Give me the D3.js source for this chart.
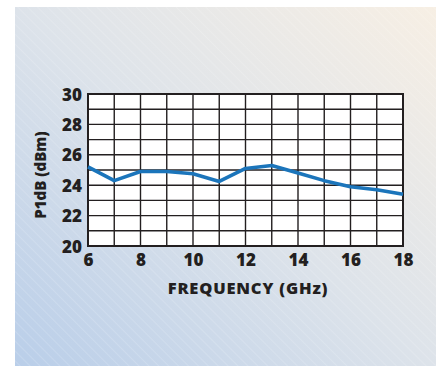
<!DOCTYPE html>
<html>
<head>
<meta charset="utf-8">
<script src="https://cdn.jsdelivr.net/npm/d3@7"></script>
<style>
  body { margin: 0; background: #fff; }
  svg { display: block; }
  .tick text { font-family: "Open Sans", sans-serif; font-weight: 800; fill: #231f20; }
</style>
</head>
<body>
<div id="chart"></div>
<script>
// data
let freq = [6, 7, 8, 9, 10, 11, 12, 13, 14, 15, 16, 17, 18];
let p1db = [25.2, 24.3, 24.9, 24.9, 24.75, 24.25, 25.1, 25.3, 24.8, 24.3, 23.9, 23.7, 23.4];
let xTicks = [6, 8, 10, 12, 14, 16, 18];
let yTicks = [20, 22, 24, 26, 28, 30];
let xGrid = [6, 7, 8, 9, 10, 11, 12, 13, 14, 15, 16, 17, 18];
let yGrid = [20, 21, 22, 23, 24, 25, 26, 27, 28, 29, 30];

let width = 436;
let height = 366;
let plot = { left: 88, right: 403, top: 94, bottom: 246 };

let svg = d3.select('#chart')
    .append('svg')
    .attr('width', width)
    .attr('height', height);

let defs = svg.append('defs');
let grad = defs.append('linearGradient')
    .attr('id', 'bg')
    .attr('x1', 0).attr('y1', 1)
    .attr('x2', 1).attr('y2', 0);
grad.append('stop').attr('offset', '0%').attr('stop-color', '#b9cee9');
grad.append('stop').attr('offset', '50%').attr('stop-color', '#dde3ea');
grad.append('stop').attr('offset', '100%').attr('stop-color', '#f7efe4');

let hatch = defs.append('pattern')
    .attr('id', 'hatch')
    .attr('patternUnits', 'userSpaceOnUse')
    .attr('width', 7).attr('height', 7)
    .attr('patternTransform', 'rotate(-45)');
hatch.append('line')
    .attr('x1', 0).attr('y1', 0)
    .attr('x2', 0).attr('y2', 7)
    .attr('stroke', '#fff')
    .attr('stroke-opacity', 0.3)
    .attr('stroke-width', 1);

svg.append('rect')
    .attr('x', 15).attr('y', 7)
    .attr('width', width - 15).attr('height', height - 7)
    .attr('fill', 'url(#bg)');
svg.append('rect')
    .attr('x', 15).attr('y', 7)
    .attr('width', width - 15).attr('height', height - 7)
    .attr('fill', 'url(#hatch)');

let x = d3.scaleLinear()
    .domain([6, 18])
    .range([plot.left, plot.right]);
let y = d3.scaleLinear()
    .domain([20, 30])
    .range([plot.bottom, plot.top]);

// plot background
svg.append('rect')
    .attr('x', x(6)).attr('y', y(30))
    .attr('width', x(18) - x(6))
    .attr('height', y(20) - y(30))
    .attr('fill', '#fff');

// grid
let grid = svg.append('g').attr('class', 'grid');
grid.selectAll('line.v')
    .data(xGrid)
    .enter().append('line')
    .attr('class', 'v')
    .attr('x1', d => x(d)).attr('x2', d => x(d))
    .attr('y1', y(20)).attr('y2', y(30))
    .attr('stroke', '#231f20')
    .attr('stroke-width', 1.4);
grid.selectAll('line.h')
    .data(yGrid)
    .enter().append('line')
    .attr('class', 'h')
    .attr('x1', x(6)).attr('x2', x(18))
    .attr('y1', d => y(d)).attr('y2', d => y(d))
    .attr('stroke', '#231f20')
    .attr('stroke-width', 1.4);
svg.append('rect')
    .attr('x', x(6)).attr('y', y(30))
    .attr('width', x(18) - x(6))
    .attr('height', y(20) - y(30))
    .attr('fill', 'none')
    .attr('stroke', '#231f20')
    .attr('stroke-width', 2);

// series
let line = d3.line()
    .x((d, i) => x(freq[i]))
    .y(d => y(d));
svg.append('path')
    .datum(p1db)
    .attr('d', line)
    .attr('fill', 'none')
    .attr('stroke', '#1b75bb')
    .attr('stroke-width', 3.6)
    .attr('stroke-linejoin', 'round');

// axes
let xAxis = svg.append('g')
    .attr('transform', 'translate(0,' + (plot.bottom + 7) + ')')
    .call(d3.axisBottom(x).tickValues(xTicks).tickSize(0).tickPadding(0));
xAxis.select('.domain').remove();
xAxis.selectAll('text').attr('font-size', 17).attr('dy', '0.75em');

let yAxis = svg.append('g')
    .attr('transform', 'translate(' + (plot.left - 6) + ',0)')
    .call(d3.axisLeft(y).tickValues(yTicks).tickSize(0).tickPadding(0));
yAxis.select('.domain').remove();
yAxis.selectAll('text').attr('font-size', 17).attr('dy', '0.36em');

svg.append('text')
    .attr('x', 248)
    .attr('y', 294)
    .attr('text-anchor', 'middle')
    .attr('font-family', '"Open Sans", sans-serif')
    .attr('font-weight', 800)
    .attr('font-size', 16.5)
    .attr('letter-spacing', 0.8)
    .attr('fill', '#231f20')
    .text('FREQUENCY (GHz)');

svg.append('text')
    .attr('transform', 'translate(46,175) rotate(-90)')
    .attr('text-anchor', 'middle')
    .attr('font-family', '"Open Sans", sans-serif')
    .attr('font-weight', 800)
    .attr('font-size', 15)
    .attr('fill', '#231f20')
    .text('P1dB (dBm)');
</script>
</body>
</html>
